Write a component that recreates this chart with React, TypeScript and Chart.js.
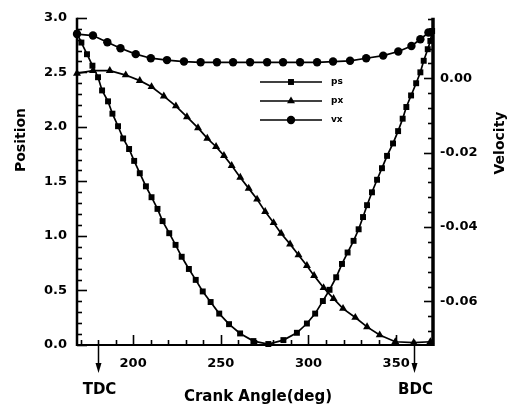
import React, { useEffect, useRef } from 'react';
import { Chart, registerables } from 'chart.js';
Chart.register(...registerables);

// ---- data ----
const psAngle = [168, 170.5, 173.7, 176.8, 180, 182.3, 185.7, 188.2, 191.4, 194.3, 197.7, 200.6, 203.8, 207.3, 210.5, 213.9, 216.8, 220.6, 224.2, 227.7, 231.8, 235.7, 239.7, 244.2, 249.1, 254.7, 261, 268.6, 277.1, 285.7, 293.4, 299.1, 303.8, 308.2, 312, 315.8, 319.1, 322.3, 325.7, 328.6, 331.1, 333.4, 336.2, 339.1, 341.9, 344.8, 348.2, 351.1, 353.7, 355.8, 358.5, 361.4, 363.8, 365.7, 368, 369.5, 370.5];
const psValue = [2.857, 2.773, 2.666, 2.561, 2.455, 2.334, 2.234, 2.121, 2.006, 1.894, 1.797, 1.688, 1.575, 1.455, 1.355, 1.248, 1.136, 1.025, 0.918, 0.809, 0.697, 0.597, 0.491, 0.394, 0.288, 0.191, 0.106, 0.036, 0.009, 0.045, 0.112, 0.197, 0.288, 0.403, 0.506, 0.621, 0.743, 0.848, 0.955, 1.061, 1.173, 1.282, 1.4, 1.515, 1.621, 1.734, 1.848, 1.961, 2.075, 2.182, 2.288, 2.4, 2.5, 2.606, 2.712, 2.788, 2.879];

const pxAngle = [168, 177.1, 186.7, 195.8, 203.8, 210.5, 217.5, 224.4, 230.7, 237, 242.3, 247.3, 251.8, 256.2, 261.1, 265.9, 270.7, 275.3, 280.1, 284.4, 289.5, 294.3, 299.1, 303.2, 308.6, 314.3, 319.7, 326.7, 333.4, 340.6, 349.5, 360, 369.5];
const pxValue = [2.49, 2.515, 2.515, 2.475, 2.424, 2.368, 2.282, 2.191, 2.091, 1.991, 1.894, 1.818, 1.736, 1.645, 1.536, 1.436, 1.336, 1.223, 1.121, 1.023, 0.925, 0.825, 0.727, 0.636, 0.525, 0.425, 0.334, 0.252, 0.166, 0.091, 0.03, 0.022, 0.03];

const vxAngle = [168, 177.1, 185.3, 192.8, 201.5, 210.1, 219.3, 229, 238.5, 247.8, 257, 266.7, 276.4, 285.5, 295.2, 304.9, 314, 323.7, 332.9, 342.6, 351.2, 358.7, 363.8, 368.4];
const vxValue = [0.0119, 0.0115, 0.0097, 0.0081, 0.0065, 0.0054, 0.0049, 0.0045, 0.0043, 0.0043, 0.0043, 0.0043, 0.0043, 0.0043, 0.0043, 0.0043, 0.0045, 0.0047, 0.0054, 0.0061, 0.0072, 0.0087, 0.0105, 0.0123];

const xTicks = [200, 250, 300, 350];
const yTicks = [0, 0.5, 1.0, 1.5, 2.0, 2.5, 3.0];
const y2Ticks = [0, -0.02, -0.04, -0.06];
const seriesNames = ['ps', 'px', 'vx'];
const markerNames = ['TDC', 'BDC'];
const markerAngles = [180, 360];

const FONT = 'DejaVu Sans';
const styles = ['rect', 'triangle', 'circle'];
const radii = [4.2, 4.6, 4.2];

function drawMarker(ctx: CanvasRenderingContext2D, style: string, x: number, y: number, r: number) {
  ctx.beginPath();
  if (style === 'rect') {
    const s = r * Math.SQRT1_2;
    ctx.rect(x - s, y - s, 2 * s, 2 * s);
  } else if (style === 'triangle') {
    ctx.moveTo(x, y - r);
    ctx.lineTo(x + r * Math.sin(2 * Math.PI / 3), y - r * Math.cos(2 * Math.PI / 3));
    ctx.lineTo(x + r * Math.sin(4 * Math.PI / 3), y - r * Math.cos(4 * Math.PI / 3));
    ctx.closePath();
  } else {
    ctx.arc(x, y, r, 0, Math.PI * 2);
  }
  ctx.fill();
}

const axesPlugin = {
  id: 'axesPlugin',
  beforeDatasetsDraw(chart: any) {
    const { ctx, chartArea } = chart;
    const { left, right, top, bottom } = chartArea;
    const x = chart.scales.x, y = chart.scales.y, y2 = chart.scales.y2;
    ctx.save();
    ctx.strokeStyle = '#000';
    ctx.lineCap = 'butt';
    ctx.lineWidth = 2.5;
    ctx.beginPath(); ctx.moveTo(left, top); ctx.lineTo(left, bottom + 1); ctx.stroke();
    ctx.lineWidth = 2;
    ctx.beginPath(); ctx.moveTo(left, bottom); ctx.lineTo(right, bottom); ctx.stroke();
    ctx.lineWidth = 3.5;
    ctx.beginPath(); ctx.moveTo(right, top); ctx.lineTo(right, bottom + 1); ctx.stroke();
    ctx.lineWidth = 1.6;
    for (let i = 0; i <= 30; i++) {
      const v = i / 10;
      const py = Math.round(y.getPixelForValue(v)) + 0.5;
      const len = i % 5 === 0 ? 10 : 5;
      ctx.beginPath(); ctx.moveTo(left, py); ctx.lineTo(left + len, py); ctx.stroke();
    }
    for (let a = 170; a <= 370; a += 10) {
      const px = Math.round(x.getPixelForValue(a)) + 0.5;
      const len = a % 50 === 0 ? 10 : 5;
      ctx.beginPath(); ctx.moveTo(px, bottom); ctx.lineTo(px, bottom - len); ctx.stroke();
    }
    for (let i = -18; i <= 4; i++) {
      const v = i * 0.004;
      const py = Math.round(y2.getPixelForValue(v)) + 0.5;
      if (py < top || py > bottom) continue;
      const len = i % 5 === 0 ? 9 : 5;
      ctx.beginPath(); ctx.moveTo(right, py); ctx.lineTo(right - len, py); ctx.stroke();
    }
    ctx.restore();
  },
  afterDraw(chart: any) {
    const { ctx, chartArea } = chart;
    const { bottom } = chartArea;
    const x = chart.scales.x;
    ctx.save();
    ctx.fillStyle = '#000';
    ctx.strokeStyle = '#000';
    markerAngles.forEach((a, i) => {
      const px = Math.round(x.getPixelForValue(a)) + 0.5;
      ctx.lineWidth = 1.5;
      ctx.beginPath(); ctx.moveTo(px, bottom); ctx.lineTo(px, bottom + 22); ctx.stroke();
      ctx.beginPath();
      ctx.moveTo(px, bottom + 28);
      ctx.lineTo(px - 3, bottom + 18);
      ctx.lineTo(px + 3, bottom + 18);
      ctx.closePath(); ctx.fill();
      ctx.font = `bold 15px "${FONT}"`;
      ctx.textAlign = 'center';
      ctx.textBaseline = 'middle';
      ctx.fillText(markerNames[i], px + 1, 390);
    });
    ctx.font = `bold 15px "${FONT}"`;
    ctx.textAlign = 'center';
    ctx.textBaseline = 'middle';
    ctx.fillText('Crank Angle(deg)', 258, 397);
    ctx.font = `bold 14px "${FONT}"`;
    ctx.save(); ctx.translate(21, 140); ctx.rotate(-Math.PI / 2); ctx.fillText('Position', 0, 0); ctx.restore();
    ctx.save(); ctx.translate(500, 143); ctx.rotate(-Math.PI / 2); ctx.fillText('Velocity', 0, 0); ctx.restore();
    const rows = [82, 101, 120];
    ctx.font = `bold 9px "${FONT}"`;
    ctx.textAlign = 'left';
    rows.forEach((ry, i) => {
      ctx.lineWidth = 1.5;
      ctx.beginPath(); ctx.moveTo(260, ry); ctx.lineTo(322, ry); ctx.stroke();
      drawMarker(ctx, styles[i], 291, ry, radii[i]);
      ctx.fillText(seriesNames[i], 331, ry);
    });
    ctx.restore();
  },
};

export default function App() {
  const ref = useRef<HTMLCanvasElement | null>(null);
  useEffect(() => {
    if (!ref.current) return;
    const tickFont = { family: FONT, weight: 'bold' as const, size: 13 };
    const mk = (i: number, xs: number[], ys: number[], axis: string) => ({
      label: seriesNames[i],
      data: xs.map((a, j) => ({ x: a, y: ys[j] })),
      yAxisID: axis,
      borderColor: '#000', backgroundColor: '#000', borderWidth: 1.7,
      pointStyle: styles[i], pointRadius: radii[i], pointBorderWidth: 0, tension: 0, clip: false,
    });
    const chart = new Chart(ref.current, {
      type: 'line',
      data: {
        datasets: [
          mk(0, psAngle, psValue, 'y'),
          mk(1, pxAngle, pxValue, 'y'),
          mk(2, vxAngle, vxValue, 'y2'),
        ],
      },
      options: {
        responsive: false,
        animation: false,
        events: [],
        layout: { padding: { top: 15, left: 0, right: 0, bottom: 0 } },
        plugins: { legend: { display: false }, tooltip: { enabled: false }, title: { display: false } },
        scales: {
          x: {
            type: 'linear', position: 'bottom', min: 168, max: 371,
            grid: { display: false, drawTicks: false }, border: { display: false },
            afterBuildTicks: (s: any) => { s.ticks = xTicks.map((v) => ({ value: v })); },
            afterFit: (s: any) => { s.height = 62; },
            ticks: { autoSkip: false, maxRotation: 0, padding: 11, color: '#000', font: tickFont, callback: (v: any) => String(v) },
          },
          y: {
            type: 'linear', position: 'left', min: 0, max: 3,
            grid: { display: false, drawTicks: false }, border: { display: false },
            afterBuildTicks: (s: any) => { s.ticks = yTicks.map((v) => ({ value: v })); },
            afterFit: (s: any) => { s.width = 77; },
            ticks: { autoSkip: false, padding: 10, color: '#000', font: tickFont, callback: (v: any) => Number(v).toFixed(1) },
          },
          y2: {
            type: 'linear', position: 'right', min: -0.07173, max: 0.01627,
            grid: { display: false, drawTicks: false }, border: { display: false },
            afterBuildTicks: (s: any) => { s.ticks = y2Ticks.map((v) => ({ value: v })); },
            afterFit: (s: any) => { s.width = 80; },
            ticks: { autoSkip: false, padding: 7, color: '#000', font: tickFont, callback: (v: any) => Number(v).toFixed(2) },
          },
        },
      },
      plugins: [axesPlugin],
    } as any);
    return () => chart.destroy();
  }, []);
  return (
    <div style={{ position: 'fixed', left: 0, top: 0, width: 513, height: 407, background: '#fff' }}>
      <canvas ref={ref} width={513} height={407} style={{ display: 'block', width: 513, height: 407 }} />
    </div>
  );
}
